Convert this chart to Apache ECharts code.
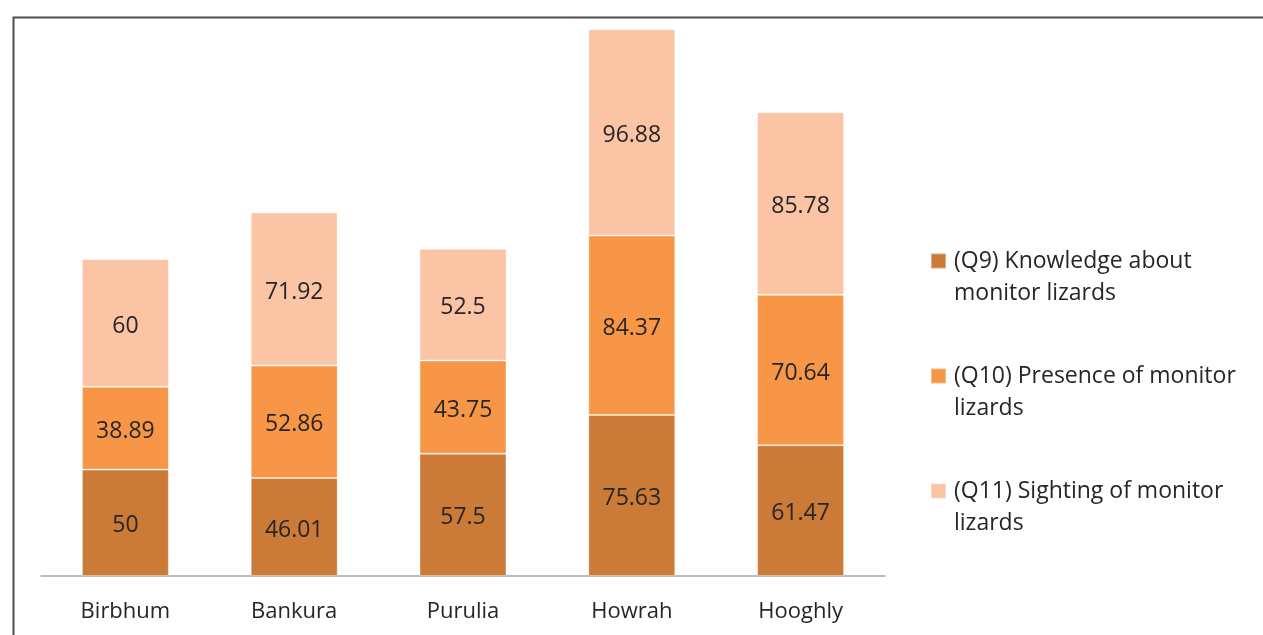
<!DOCTYPE html>
<html>
<head>
<meta charset="utf-8">
<script src="https://cdn.jsdelivr.net/npm/echarts@6/dist/echarts.min.js"></script>
<style>
html,body{margin:0;padding:0;background:#fff;}
#c{width:1263px;height:635px;}
</style>
</head>
<body>
<div id="c"></div>
<script>
const categories = ['Birbhum', 'Bankura', 'Purulia', 'Howrah', 'Hooghly'];
const seriesNames = [
  '(Q9) Knowledge about\nmonitor lizards',
  '(Q10) Presence of monitor\nlizards',
  '(Q11) Sighting of monitor\nlizards'
];
const q9 = [50, 46.01, 57.5, 75.63, 61.47];
const q10 = [38.89, 52.86, 43.75, 84.37, 70.64];
const q11 = [60, 71.92, 52.5, 96.88, 85.78];
const colors = ['#CB7A37', '#F79646', '#FAC4A5'];

const font = 'Open Sans';
const chart = echarts.init(document.getElementById('c'), null, {renderer: 'canvas'});
function mk(name, data, color) {
  return {
    name: name,
    type: 'bar',
    stack: 'all',
    data: data,
    barCategoryGap: '48.5%',
    itemStyle: {color: color, borderColor: 'rgba(255,255,255,0.35)', borderWidth: 1},
    label: {show: true, position: 'inside', offset: [0, 3], color: '#262626', fontFamily: font, fontSize: 23},
    emphasis: {disabled: true}
  };
}
chart.setOption({
  animation: false,
  backgroundColor: '#fff',
  graphic: [{
    type: 'rect', left: 11, top: 15, z: 100,
    shape: {x: 0, y: 0, width: 1300, height: 700},
    style: {fill: 'none', stroke: '#4d4d4d', lineWidth: 2}
  }],
  grid: {left: 41, right: 378, top: 22.7, bottom: 59, containLabel: false},
  xAxis: {
    type: 'category', data: categories,
    axisLine: {lineStyle: {color: '#A6A6A6', width: 1.5}},
    axisTick: {show: false},
    axisLabel: {color: '#262626', fontFamily: font, fontSize: 22, margin: 25}
  },
  yAxis: {type: 'value', min: 0, max: 260, show: false, splitLine: {show: false}},
  legend: {
    orient: 'vertical', left: 930, top: 213, padding: 0,
    itemWidth: 15, itemHeight: 15, itemGap: 19,
    icon: 'rect',
    data: seriesNames,
    formatter: function (n) { return '\n' + n; },
    textStyle: {color: '#262626', fontFamily: font, fontSize: 23, lineHeight: 32, padding: [0, 0, 0, 3]}
  },
  series: [mk(seriesNames[0], q9, colors[0]), mk(seriesNames[1], q10, colors[1]), mk(seriesNames[2], q11, colors[2])]
});
</script>
</body>
</html>
